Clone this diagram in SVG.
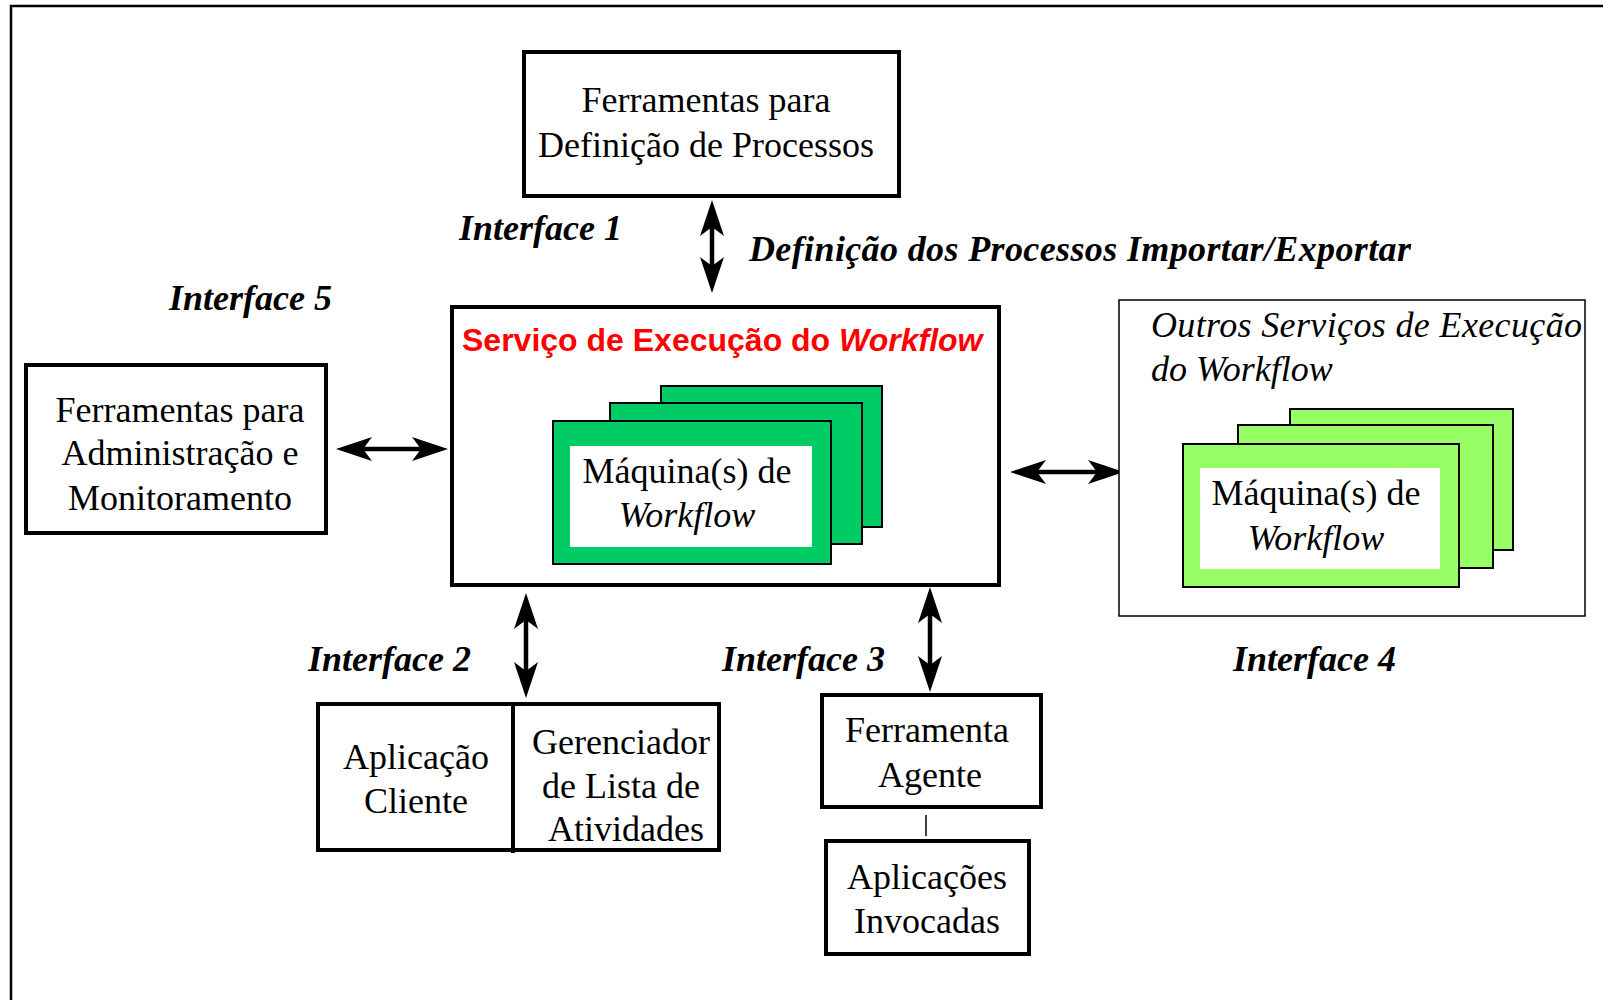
<svg xmlns="http://www.w3.org/2000/svg" width="1603" height="1000" viewBox="0 0 1603 1000">
<style>
.box{fill:#fff;stroke:#000;stroke-width:4}
.thin{fill:#fff;stroke:#000;stroke-width:1.5}
.g1{fill:#00CC66;stroke:#000;stroke-width:2}
.g2{fill:#99FF66;stroke:#000;stroke-width:2}
.wi{fill:#fff;stroke:none}
.t{font-family:"Liberation Serif","Times New Roman",serif;font-size:36px;fill:#000;text-anchor:middle}
.it{font-family:"Liberation Serif","Times New Roman",serif;font-size:36px;font-style:italic;fill:#000}
.lbl{font-family:"Liberation Serif","Times New Roman",serif;font-size:36px;font-style:italic;font-weight:bold;fill:#000}
.red{font-family:"Liberation Sans",Arial,sans-serif;font-size:32px;font-weight:bold;fill:#FF0000}
.arr{stroke:#000;stroke-width:4.5;fill:none;marker-start:url(#ah);marker-end:url(#ah)}
</style>
<defs>
<marker id="ah" markerUnits="userSpaceOnUse" markerWidth="38" markerHeight="26" refX="16" refY="12" orient="auto-start-reverse" viewBox="0 0 38 26">
<path d="M0,0 L36,12 L0,24 L9,12 z" fill="#000"/>
</marker>
</defs>
<rect width="1603" height="1000" fill="#fff"/>
<g id="frame">
<path d="M11,1000 L11,6 L1603,6" fill="none" stroke="#000" stroke-width="2.5"/>
</g>
<g id="connectors">
<line class="arr" x1="712" y1="220" x2="712" y2="273"/>
<line class="arr" x1="356" y1="449" x2="428" y2="449"/>
<line class="arr" x1="1030" y1="472" x2="1104" y2="472"/>
<line class="arr" x1="526" y1="613" x2="526" y2="678"/>
<line class="arr" x1="930" y1="607" x2="930" y2="672"/>
<line x1="926" y1="815" x2="926" y2="836" stroke="#000" stroke-width="1.5"/>
</g>
<g id="labels">
<text class="lbl" x="459" y="240">Interface 1</text>
<text class="lbl" x="749" y="261" textLength="662" lengthAdjust="spacing">Definição dos Processos Importar/Exportar</text>
<text class="lbl" x="169" y="310">Interface 5</text>
<text class="lbl" x="308" y="671">Interface 2</text>
<text class="lbl" x="722" y="671">Interface 3</text>
<text class="lbl" x="1233" y="671">Interface 4</text>
</g>
<g id="def-tools">
<rect class="box" x="524" y="52" width="375" height="144"/>
<text class="t" x="706" y="112">Ferramentas para</text>
<text class="t" x="706" y="157">Definição de Processos</text>
</g>
<g id="admin-tools">
<rect class="box" x="26" y="365" width="300" height="168"/>
<text class="t" x="180" y="422">Ferramentas para</text>
<text class="t" x="180" y="465">Administração e</text>
<text class="t" x="180" y="510">Monitoramento</text>
</g>
<g id="enactment-service">
<rect class="box" x="452" y="307" width="547" height="278"/>
<text class="red" x="462" y="351">Serviço de Execução do <tspan font-style="italic">Workflow</tspan></text>
<rect class="g1" x="661" y="386" width="221" height="141"/>
<rect class="g1" x="610" y="403" width="252" height="141"/>
<rect class="g1" x="553" y="421" width="278" height="143"/>
<rect class="wi" x="570" y="446" width="242" height="101"/>
<text class="t" x="687" y="483">Máquina(s) de</text>
<text class="t" x="687" y="527" font-style="italic">Workflow</text>
</g>
<g id="other-services">
<rect class="thin" x="1119" y="300" width="466" height="316"/>
<text class="it" x="1151" y="337" textLength="431" lengthAdjust="spacing">Outros Serviços de Execução</text>
<text class="it" x="1151" y="381">do Workflow</text>
<rect class="g2" x="1290" y="409" width="223" height="141"/>
<rect class="g2" x="1238" y="425" width="255" height="143"/>
<rect class="g2" x="1183" y="444" width="276" height="143"/>
<rect class="wi" x="1200" y="468" width="240" height="101"/>
<text class="t" x="1316" y="505">Máquina(s) de</text>
<text class="t" x="1316" y="550" font-style="italic">Workflow</text>
</g>
<g id="client-app">
<rect class="box" x="318" y="704" width="401" height="146"/>
<line x1="513" y1="704" x2="513" y2="853" stroke="#000" stroke-width="4"/>
<text class="t" x="416" y="769">Aplicação</text>
<text class="t" x="416" y="813">Cliente</text>
<text class="t" x="621" y="754">Gerenciador</text>
<text class="t" x="621" y="798">de Lista de</text>
<text class="t" x="626" y="841">Atividades</text>
</g>
<g id="agent-tool">
<rect class="box" x="822" y="695" width="219" height="112"/>
<text class="t" x="927" y="742">Ferramenta</text>
<text class="t" x="930" y="787">Agente</text>
</g>
<g id="invoked-apps">
<rect class="box" x="826" y="841" width="203" height="113"/>
<text class="t" x="927" y="889">Aplicações</text>
<text class="t" x="927" y="933">Invocadas</text>
</g>
</svg>
